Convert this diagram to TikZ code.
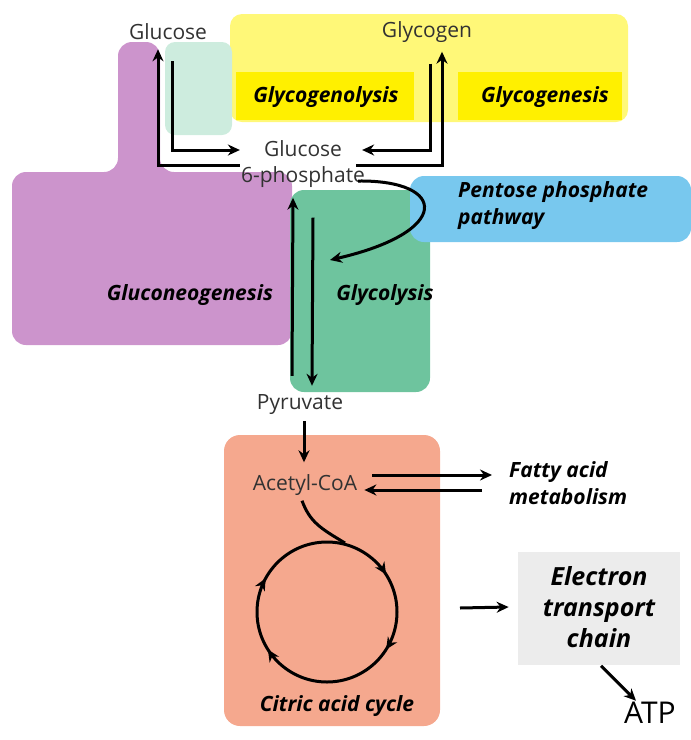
\documentclass[tikz,border=0pt]{standalone}
\usepackage{fontspec}
\setmainfont{Open Sans}
\usetikzlibrary{arrows.meta,decorations.markings}
\definecolor{yel}{RGB}{255,240,0}
\definecolor{yelsoft}{RGB}{255,248,120}
\definecolor{purp}{RGB}{204,148,204}
\definecolor{grn}{RGB}{110,196,158}
\definecolor{grnsoft}{RGB}{205,236,222}
\definecolor{blu}{RGB}{120,200,238}
\definecolor{salm}{RGB}{245,168,142}
\definecolor{etcgray}{RGB}{236,236,236}
\definecolor{txt}{RGB}{50,50,50}
\tikzset{
  metab/.style={font=\fontsize{21}{26}\selectfont, text=txt, align=center, inner sep=1pt},
  pway/.style={font=\fontsize{21}{27}\selectfont\bfseries\itshape, align=left, inner sep=1pt},
  arr/.style={line width=3pt, -{Stealth[length=12pt,width=11pt]}},
}
\begin{document}
\begin{tikzpicture}[x=1pt,y=-1pt]
  \useasboundingbox (0,0) rectangle (691,740);
  % colour patches
  \fill[yelsoft,rounded corners=12] (230,14) rectangle (628,122);
  \fill[yel] (236,72) rectangle (414,120);
  \fill[yel] (458,72) rectangle (622,120);
  \fill[grnsoft,rounded corners=10] (165,42) rectangle (232,135);
  \fill[purp,rounded corners=14] (118,42) -- (160,42) -- (160,172) -- (292,172)
     -- (292,345) -- (12,345) -- (12,172) -- (118,172) -- cycle;
  \fill[grn,rounded corners=14] (290,190) rectangle (430,392);
  \fill[blu,rounded corners=14] (410,176) rectangle (691,242);
  \fill[salm,rounded corners=16] (224,435) rectangle (440,726);
  \fill[etcgray] (518,552) rectangle (680,665);

  % metabolites
  \node[metab] (glc) at (168,32) {Glucose};
  \node[metab] (gly) at (427,32) {Glycogen};
  \node[metab] (g6p) at (303,164) {Glucose\\6-phosphate};
  \node[metab] (pyr) at (300,405) {Pyruvate};
  \node[metab] (acoa) at (305,485) {Acetyl-CoA};
  \node[font=\fontsize{30}{34}\selectfont] (atp) at (650,713) {ATP};

  % pathways
  \node[pway] (glgl) at (326,97) {Glycogenolysis};
  \node[pway] (glgn) at (545,97) {Glycogenesis};
  \node[pway, anchor=west] (ppp) at (457,206) {Pentose phosphate\\pathway};
  \node[pway] (gneo) at (190,295) {Gluconeogenesis};
  \node[pway] (glys) at (385,295) {Glycolysis};
  \node[pway, anchor=west] (fatty) at (508,483) {Fatty acid\\metabolism};
  \node[pway] (tca) at (337,706) {Citric acid cycle};
  \node[pway, font=\fontsize{25}{31}\selectfont\bfseries\itshape, align=center] (etc) at (599,607) {Electron\\transport\\chain};
  \coordinate (cyc) at (327,612);

  % glucose and glycogen
  \draw[arr] ([yshift=-1pt]g6p.west) -| ([xshift=-10pt,yshift=-8pt]glc.south);
  \draw[arr] ([xshift=4pt,yshift=-20pt]glc.south) |- ([yshift=14pt]g6p.west);
  \draw[arr] ([xshift=-10pt,yshift=-1pt]g6p.east) -| ([xshift=15pt,yshift=-8pt]gly.south);
  \draw[arr] ([xshift=3pt,yshift=-20pt]gly.south) |- ([xshift=-4pt,yshift=14pt]g6p.east);
  % pentose phosphate shunt
  \draw[arr] ([xshift=-8pt,yshift=-17pt]g6p.east) .. controls (448,180) and (452,232) .. (330,260);
  % glycolysis / gluconeogenesis
  \draw[arr] ([xshift=-8pt,yshift=18pt]pyr.north) -- ([xshift=-10pt,yshift=-9pt]g6p.south);
  \draw[arr] ([xshift=10pt,yshift=-29pt]g6p.south) -- ([xshift=12pt,yshift=8pt]pyr.north);
  \draw[arr] ([xshift=4pt,yshift=-5pt]pyr.south) -- ([xshift=-1pt,yshift=11pt]acoa.north);
  % fatty acids
  \draw[arr] ([xshift=14pt,yshift=10pt]acoa.east) -- ([xshift=-16pt,yshift=8pt]fatty.west);
  \draw[arr] ([xshift=-26pt,yshift=-7pt]fatty.west) -- ([xshift=6pt,yshift=-5pt]acoa.east);
  % citric acid cycle
  \draw[line width=3pt] ([xshift=-3pt,yshift=-4pt]acoa.south) .. controls (310,522) and (320,528) .. (345,543);
  \draw[line width=3pt, postaction={decorate}, decoration={markings,
      mark=at position 0.09 with {\arrowreversed{Stealth[length=12pt,width=11pt]}},
      mark=at position 0.42 with {\arrowreversed{Stealth[length=12pt,width=11pt]}},
      mark=at position 0.59 with {\arrowreversed{Stealth[length=12pt,width=11pt]}},
      mark=at position 0.91 with {\arrowreversed{Stealth[length=12pt,width=11pt]}}}]
    (cyc) circle (70pt);
  % electron transport
  \coordinate (etcin) at (460,608);
  \draw[arr] (etcin) -- ([xshift=-33pt]etc.west);
  \draw[arr] ([xshift=2pt,yshift=-17pt]etc.south) -- ([xshift=-14pt,yshift=-2pt]atp.north);
\end{tikzpicture}
\end{document}
